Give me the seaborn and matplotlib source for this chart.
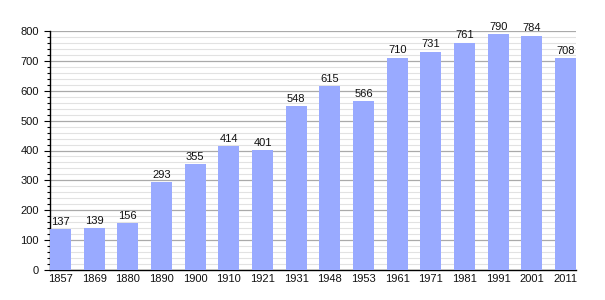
import matplotlib
matplotlib.use("Agg")
import matplotlib.pyplot as plt
import seaborn as sns
import pandas as pd
from matplotlib.ticker import MultipleLocator

years = ["1857", "1869", "1880", "1890", "1900", "1910", "1921", "1931",
         "1948", "1953", "1961", "1971", "1981", "1991", "2001", "2011"]
population = [137, 139, 156, 293, 355, 414, 401, 548, 615, 566, 710, 731,
              761, 790, 784, 708]

df = pd.DataFrame({"year": years, "pop": population})

sns.set_style("white")
plt.rcParams["font.family"] = ["Liberation Sans", "DejaVu Sans"]

fig = plt.figure(figsize=(6.05, 3.0), dpi=100)
ax = fig.add_axes([50 / 605, 30 / 300, 526 / 605, 239 / 300])

w = 0.624
sns.barplot(data=df, x="year", y="pop", color="#99aaff", saturation=1,
            width=w, ax=ax, zorder=3)
for p in ax.patches:
    p.set_edgecolor("none")

ax.set_xlim(-w / 2, len(years) - 1 + w / 2)
ax.set_ylim(0, 800)
ax.yaxis.set_major_locator(MultipleLocator(100))
ax.yaxis.set_minor_locator(MultipleLocator(20))
ax.grid(which="major", axis="y", color="#aaaaaa", linewidth=0.9, zorder=0)
ax.grid(which="minor", axis="y", color="#e2e2e2", linewidth=0.8, zorder=0)
ax.set_axisbelow(True)

for s in ["top", "right"]:
    ax.spines[s].set_visible(False)
for s in ["left", "bottom"]:
    ax.spines[s].set_color("black")
    ax.spines[s].set_linewidth(1.0)

ax.tick_params(axis="y", which="major", left=True, length=4, width=0.8,
               labelsize=8, pad=4, color="black", labelcolor="#111111")
ax.tick_params(axis="y", which="minor", left=True, length=2, width=0.8, color="black")
ax.tick_params(axis="x", bottom=False, length=0, labelsize=8, pad=3,
               labelcolor="#111111")
ax.set_xlabel("")
ax.set_ylabel("")

for i, v in enumerate(population):
    ax.text(i, v + 8, str(v), ha="center", va="bottom", fontsize=8,
            color="#111111", zorder=4)

fig.savefig("out.png", dpi=100)
